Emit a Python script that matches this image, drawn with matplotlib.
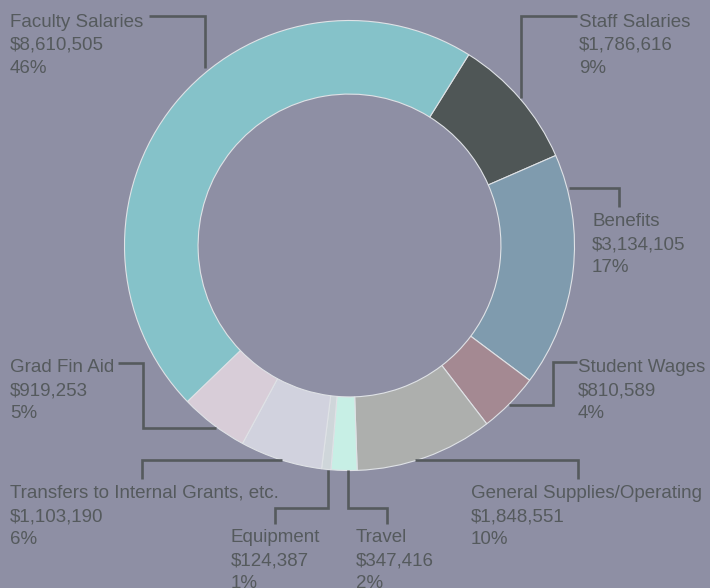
import matplotlib.pyplot as plt

# budget categories, in drawing order (clockwise from Staff Salaries)
categories = ['Staff Salaries', 'Benefits', 'Student Wages', 'General Supplies/Operating',
              'Travel', 'Equipment', 'Transfers to Internal Grants, etc.', 'Grad Fin Aid',
              'Faculty Salaries']
amounts = [1786616, 3134105, 810589, 1848551, 347416, 124387, 1103190, 919253, 8610505]
pct_labels = ['9%', '17%', '4%', '10%', '2%', '1%', '6%', '5%', '46%']
colors = ['#4f5656', '#7f9bae', '#a48992', '#adafad', '#c7efe5', '#cfd6da',
          '#d1d2de', '#d8cdd8', '#85c2c9']

bg = '#8e8fa4'
ink = '#555a5d'

W, H = 710, 588
fig = plt.figure(figsize=(W / 100, H / 100), dpi=100, facecolor=bg)
plt.rcParams['font.family'] = ['Liberation Sans', 'DejaVu Sans']

# donut: center (349.5, 245.5) px, outer radius 225 px
cx, cy, R = 349.5, 245.5, 225
ax = fig.add_axes([(cx - R) / W, (H - cy - R) / H, 2 * R / W, 2 * R / H])
ax.pie(amounts, colors=colors, startangle=58, counterclock=False, radius=1,
       wedgeprops=dict(width=0.327, edgecolor='#dfe2e6', linewidth=0.8))
ax.set_xlim(-1, 1)
ax.set_ylim(-1, 1)
ax.set_aspect('equal')
ax.axis('off')

# overlay in pixel coordinates for labels and leader lines
ov = fig.add_axes([0, 0, 1, 1])
ov.set_xlim(0, W)
ov.set_ylim(H, 0)
ov.axis('off')

# label anchor (x, first baseline) and leader path, same order as categories
label_pos = [(579, 27), (592, 226), (578, 372), (471, 498), (356, 542),
             (231, 542), (10, 498), (10, 372), (10, 27)]
leaders = [
    [(577, 15.5), (521, 15.5), (521, 98)],
    [(569, 188), (619, 188), (619, 207)],
    [(509, 405), (553, 405), (553, 362), (577, 362)],
    [(415, 460), (578, 460), (578, 479)],
    [(348, 470), (348, 508), (387, 508), (387, 524)],
    [(328, 470), (328, 508), (275, 508), (275, 524)],
    [(282, 459.5), (142, 459.5), (142, 479)],
    [(118, 363), (143, 363), (143, 428), (216, 428)],
    [(149, 15.5), (205, 15.5), (205, 68)],
]

for name, amt, pct, (tx, ty), path in zip(categories, amounts, pct_labels, label_pos, leaders):
    xs = [p[0] for p in path]
    ys = [p[1] for p in path]
    ov.plot(xs, ys, color=ink, lw=1.9, solid_joinstyle='miter', solid_capstyle='butt')
    for i, line in enumerate([name, '${:,}'.format(amt), pct]):
        ov.text(tx, ty + 23 * i, line, color=ink, fontsize=13.5, ha='left', va='baseline')

fig.savefig('out.png', dpi=100, facecolor=bg)
